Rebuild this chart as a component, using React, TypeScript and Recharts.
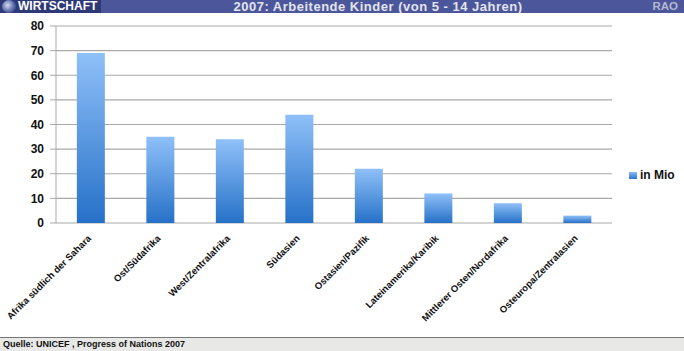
import React from "react";
import {
  Bar,
  BarChart,
  CartesianGrid,
  Legend,
  XAxis,
  YAxis,
} from "recharts";

const REGIONS = [
  "Afrika südlich der Sahara",
  "Ost/Südafrika",
  "West/Zentralafrika",
  "Südasien",
  "Ostasien/Pazifik",
  "Lateinamerika/Karibik",
  "Mittlerer Osten/Nordafrika",
  "Osteuropa/Zentralasien",
];
const CHILDREN_MIO = [69, 35, 34, 44, 22, 12, 8, 3];
const Y_TICKS = [0, 10, 20, 30, 40, 50, 60, 70, 80];
const BOUNDARY_TICKS = [0, 1, 2, 3, 4, 5, 6, 7, 8];

const data = REGIONS.map((region, i) => ({
  region,
  pos: i + 0.5,
  value: CHILDREN_MIO[i],
}));

const LABEL_FONT = "'Liberation Sans', Arial, sans-serif";

function RegionTick({ x, y, payload }: any) {
  return (
    <g transform={`translate(${x + 1},${y + 8})`}>
      <text
        transform="rotate(-45)"
        textAnchor="end"
        fontFamily={LABEL_FONT}
        fontWeight="bold"
        fontSize={9.5}
        fill="#111"
      >
        {payload.value}
      </text>
    </g>
  );
}

function LegendBox() {
  return (
    <div
      style={{
        display: "flex",
        alignItems: "center",
        gap: 3,
        fontFamily: LABEL_FONT,
        fontWeight: "bold",
        fontSize: 12,
        color: "#111",
        whiteSpace: "nowrap",
      }}
    >
      <span
        style={{
          width: 8,
          height: 7,
          background: "linear-gradient(#8cbcf7, #2a74cc)",
          display: "inline-block",
        }}
      />
      in Mio
    </div>
  );
}

export default function App() {
  return (
    <div
      style={{
        position: "absolute",
        left: 0,
        top: 0,
        width: 684,
        height: 351,
        background: "#fff",
        overflow: "hidden",
        fontFamily: "Arial, 'Liberation Sans', sans-serif",
      }}
    >
      <div
        style={{
          position: "absolute",
          left: 0,
          top: 0,
          width: 684,
          height: 13,
          background: "#4b579a",
          overflow: "hidden",
        }}
      >
        <div
          style={{
            position: "absolute",
            left: 0,
            top: 0,
            height: 13,
            width: 101,
            background: "#2e3a78",
            color: "#fff",
            fontWeight: "bold",
            fontSize: 12,
            lineHeight: "13px",
            whiteSpace: "nowrap",
            paddingLeft: 2,
            boxSizing: "border-box",
          }}
        >
          <span
            style={{
              display: "inline-block",
              width: 14,
              height: 13,
              borderRadius: "50%",
              background: "radial-gradient(circle at 40% 40%, #d4dcf2, #5a6aa8 55%, #26346c)",
              verticalAlign: "top",
              marginRight: 2,
            }}
          />
          WIRTSCHAFT
        </div>
        <div
          style={{
            position: "absolute",
            left: 178,
            width: 400,
            top: 0,
            textAlign: "center",
            color: "#e2e4ee",
            fontWeight: "bold",
            fontSize: 13,
            letterSpacing: 0.5,
            lineHeight: "13px",
            whiteSpace: "nowrap",
          }}
        >
          2007: Arbeitende Kinder (von 5 - 14 Jahren)
        </div>
        <div
          style={{
            position: "absolute",
            right: 6,
            top: 0,
            color: "#b4b8d0",
            fontWeight: "bold",
            fontSize: 11.5,
            lineHeight: "13px",
          }}
        >
          RAO
        </div>
      </div>

      <div style={{ position: "absolute", left: 0, top: 0 }}>
        <BarChart
          width={684}
          height={337}
          data={data}
          margin={{ top: 26, right: 72, bottom: 14, left: 0 }}
          barCategoryGap="30%"
        >
          <defs>
            <linearGradient id="barFill" x1="0" y1="0" x2="0" y2="1">
              <stop offset="0%" stopColor="#8fc0f8" />
              <stop offset="100%" stopColor="#2671c8" />
            </linearGradient>
          </defs>
          <CartesianGrid vertical={false} stroke="#a9a9a9" strokeWidth={1.2} />
          <XAxis
            xAxisId="bounds"
            dataKey="pos"
            type="number"
            domain={[0, 8]}
            ticks={BOUNDARY_TICKS}
            tick={false}
            tickSize={4}
            height={0}
            stroke="#a9a9a9"
            axisLine={{ stroke: "#a9a9a9", strokeWidth: 1.2 }}
          />
          <XAxis
            xAxisId="cat"
            dataKey="region"
            height={100}
            interval={0}
            axisLine={false}
            tickLine={false}
            tick={<RegionTick />}
          />
          <YAxis
            width={56}
            domain={[0, 80]}
            ticks={Y_TICKS}
            tickSize={6}
            tickMargin={6}
            stroke="#a9a9a9"
            tick={{
              fill: "#111",
              fontSize: 12,
              fontWeight: "bold",
              fontFamily: "Arial, 'Liberation Sans', sans-serif",
            }}
          />
          <Legend
            layout="horizontal"
            align="center"
            verticalAlign="middle"
            content={<LegendBox />}
            wrapperStyle={{ left: 629, top: 168, width: 60, height: 14 }}
          />
          <Bar
            xAxisId="cat"
            dataKey="value"
            name="in Mio"
            fill="url(#barFill)"
            isAnimationActive={false}
          />
        </BarChart>
      </div>

      <div
        style={{
          position: "absolute",
          left: 0,
          top: 337,
          width: 684,
          height: 14,
          background: "#e8e9e6",
          borderTop: "1px solid #777",
          boxSizing: "border-box",
          fontSize: 9,
          fontWeight: "bold",
          color: "#111",
          lineHeight: "13px",
          paddingLeft: 3,
        }}
      >
        Quelle: UNICEF , Progress of Nations 2007
      </div>
    </div>
  );
}
